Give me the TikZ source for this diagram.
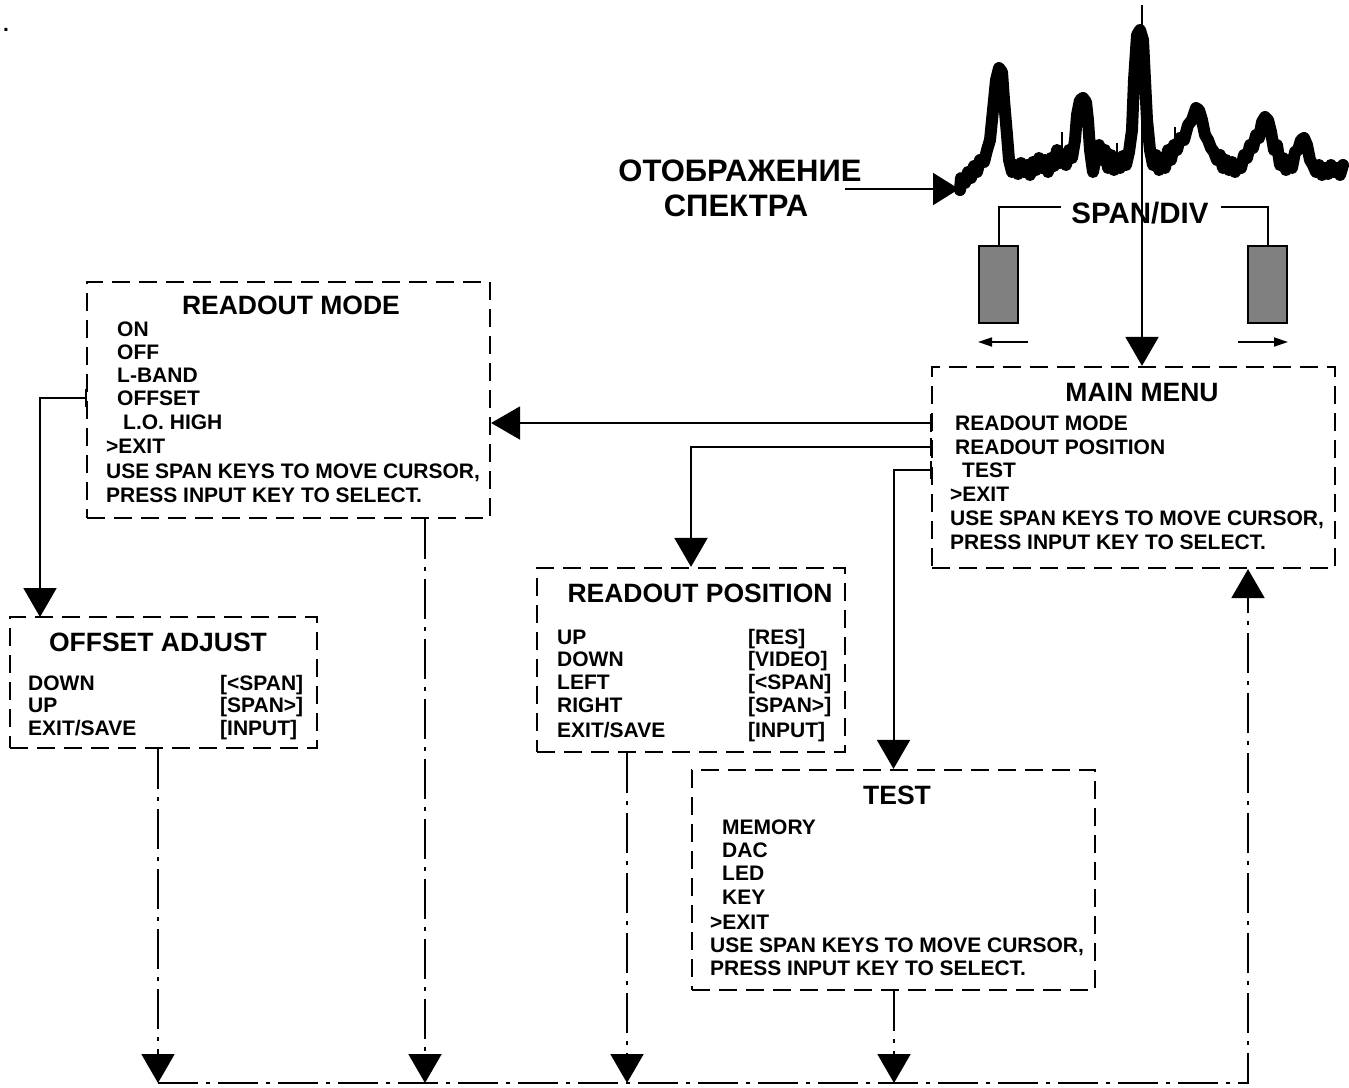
\documentclass[tikz,border=0pt]{standalone}
\usepackage{fontspec}
\setmainfont{Liberation Sans}
\usetikzlibrary{arrows.meta}
\begin{document}
\begin{tikzpicture}[x=1pt,y=-1pt,
  dbox/.style={draw, rectangle, dash pattern=on 18pt off 9pt, line width=2.2pt, inner sep=0pt},
  body/.style={font=\fontsize{21}{24}\selectfont\bfseries, inner sep=0pt, text height=15pt, text depth=0pt, anchor=west},
  ttl/.style={font=\fontsize{26.5}{30}\selectfont\bfseries, inner sep=0pt, text height=19pt, text depth=0pt},
  big/.style={font=\fontsize{31}{35}\selectfont\bfseries, inner sep=0pt, text height=22pt, text depth=0pt},
  conn/.style={line width=2pt},
  dd/.style={line width=2pt, dash pattern=on 40pt off 8pt on 4pt off 8pt},
  bigarrow/.style={-{Triangle[length=29pt,width=33pt]}},
  smallarrow/.style={-{Triangle[length=14pt,width=9pt]}},
  keyrect/.style={draw, line width=1.5pt, fill=black!50, minimum width=39pt, minimum height=77pt, inner sep=0pt},
  tick/.style={line width=2.2pt}
]
\useasboundingbox (0,0) rectangle (1349,1087);

% stray dot
\node[body] (dot) at (3,24) {.};

% ---------- spectrum ----------
\draw[line width=12pt, line join=round, line cap=round] plot coordinates {
(960,190) (961,178) (965,183) (968,172) (971,178) (974,166) (977,172) (980,160) (984,162) (987,150)
(990,140) (993,110) (996,80) (999,68) (1002,72) (1004,100) (1007,135) (1009,160) (1012,172) (1015,165)
(1018,174) (1021,163) (1024,172) (1027,165) (1030,175) (1033,162) (1036,170) (1039,158) (1042,168)
(1045,160) (1048,172) (1051,158) (1054,166) (1057,150) (1060,163) (1063,155) (1066,165) (1069,150)
(1072,158) (1075,140) (1077,115) (1080,100) (1083,98) (1086,102) (1088,120) (1090,150) (1093,172)
(1096,155) (1099,145) (1102,160) (1105,150) (1108,168) (1111,155) (1114,170) (1117,158) (1120,168)
(1123,156) (1126,165) (1129,152) (1132,130) (1134,80) (1137,35) (1140,30) (1143,40) (1145,80)
(1147,120) (1150,150) (1153,165) (1156,155) (1159,170) (1162,158) (1165,168) (1168,150) (1171,160)
(1174,145) (1177,150) (1180,138) (1184,140) (1188,125) (1192,120) (1196,108) (1199,110) (1202,120)
(1205,135) (1208,140) (1211,148) (1214,152) (1217,160) (1220,155) (1223,168) (1226,160) (1229,170)
(1232,162) (1235,172) (1238,165) (1241,168) (1244,155) (1247,158) (1250,145) (1253,148) (1256,135)
(1259,138) (1262,122) (1265,117) (1268,120) (1271,132) (1274,150) (1277,145) (1280,165) (1283,158)
(1286,170) (1289,160) (1292,168) (1295,152) (1298,150) (1301,140) (1304,138) (1307,145) (1310,160)
(1313,165) (1316,172) (1319,165) (1322,175) (1325,168) (1328,174) (1331,165) (1334,172) (1337,168)
(1340,175) (1343,165)};
\draw[line width=1.5pt] (1062,150) -- (1062,132);
\draw[line width=1.5pt] (1117,155) -- (1117,143);
\draw[line width=1.5pt] (1175,150) -- (1175,127);
\draw[line width=1.5pt] (1295,165) -- (1295,152);

% label and arrow into spectrum
\node[big] (l1) at (740,170) {ОТОБРАЖЕНИЕ};
\node[big] (l2) at (736,205) {СПЕКТРА};
\coordinate (ls) at (845,189);
\coordinate (sp) at (959,189);
\draw[conn, -{Triangle[length=26pt,width=32pt]}] (ls) -- (sp);

% main vertical line
\coordinate (top) at (1142,5);

% SPAN/DIV
\node[font=\fontsize{29.5}{32}\selectfont\bfseries, inner sep=0pt, text height=21pt, text depth=0pt] (sd) at (1140,213) {SPAN/DIV};
\node[keyrect] (kl) at (998.5,284.5) {};
\node[keyrect] (kr) at (1267.5,284.5) {};
\draw[conn] ([xshift=-10pt,yshift=6pt]sd.west) -| (kl.north);
\draw[conn] ([xshift=12pt,yshift=6pt]sd.east) -| (kr.north);
\coordinate (al1) at (1028,342);
\coordinate (al2) at (978,342);
\coordinate (ar1) at (1238,342);
\coordinate (ar2) at (1288,342);
\draw[line width=1.8pt, smallarrow] (al1) -- (al2);
\draw[line width=1.8pt, smallarrow] (ar1) -- (ar2);

% ---------- boxes ----------
\node[dbox, minimum width=403pt, minimum height=201pt] (mm) at (1133.5,467.5) {};
\node[dbox, minimum width=403pt, minimum height=236pt] (rm) at (288.5,400) {};
\node[dbox, minimum width=307pt, minimum height=131pt] (oa) at (163.5,682.5) {};
\node[dbox, minimum width=308pt, minimum height=184pt] (rp) at (691,660) {};
\node[dbox, minimum width=403pt, minimum height=220pt] (ts) at (893.5,880) {};

\draw[conn, bigarrow] (top) -- (mm.north -| top);

% main menu text
\node[ttl] (mmT) at (1142,392) {MAIN MENU};
\node[body] (mm1) at (955,423) {READOUT MODE};
\node[body] (mm2) at (955,447) {READOUT POSITION};
\node[body] (mm3) at (962,470) {TEST};
\node[body] (mm4) at (950,494) {>EXIT};
\node[body] (mm5) at (950,518) {USE SPAN KEYS TO MOVE CURSOR,};
\node[body] (mm6) at (950,542) {PRESS INPUT KEY TO SELECT.};

% readout mode text
\node[ttl] (rmT) at (291,305) {READOUT MODE};
\node[body] (rm1) at (117,329) {ON};
\node[body] (rm2) at (117,352) {OFF};
\node[body] (rm3) at (117,375) {L-BAND};
\node[body] (rm4) at (117,398) {OFFSET};
\node[body] (rm5) at (123,422) {L.O. HIGH};
\node[body] (rm6) at (106,446) {>EXIT};
\node[body] (rm7) at (106,471) {USE SPAN KEYS TO MOVE CURSOR,};
\node[body] (rm8) at (106,495) {PRESS INPUT KEY TO SELECT.};

% offset adjust text
\node[ttl] (oaT) at (158,642) {OFFSET ADJUST};
\node[body] (oa1) at (28,683) {DOWN};
\node[body] (oa2) at (28,705) {UP};
\node[body] (oa3) at (28,728) {EXIT/SAVE};
\node[body] (oa4) at (220,683) {[<SPAN]};
\node[body] (oa5) at (220,705) {[SPAN>]};
\node[body] (oa6) at (220,728) {[INPUT]};

% readout position text
\node[ttl] (rpT) at (700,593) {READOUT POSITION};
\node[body] (rp1) at (557,637) {UP};
\node[body] (rp2) at (557,659) {DOWN};
\node[body] (rp3) at (557,682) {LEFT};
\node[body] (rp4) at (557,705) {RIGHT};
\node[body] (rp5) at (557,730) {EXIT/SAVE};
\node[body] (rp6) at (748,637) {[RES]};
\node[body] (rp7) at (748,659) {[VIDEO]};
\node[body] (rp8) at (748,682) {[<SPAN]};
\node[body] (rp9) at (748,705) {[SPAN>]};
\node[body] (rp10) at (748,730) {[INPUT]};

% test text
\node[ttl] (tsT) at (897,795) {TEST};
\node[body] (ts1) at (722,827) {MEMORY};
\node[body] (ts2) at (722,850) {DAC};
\node[body] (ts3) at (722,873) {LED};
\node[body] (ts4) at (722,897) {KEY};
\node[body] (ts5) at (710,922) {>EXIT};
\node[body] (ts6) at (710,945) {USE SPAN KEYS TO MOVE CURSOR,};
\node[body] (ts7) at (710,968) {PRESS INPUT KEY TO SELECT.};

% ---------- connectors ----------
\draw[conn, bigarrow] (mm.west |- mm1) -- (rm.east |- mm1);
\draw[conn, bigarrow] (mm.west |- mm2) -| (rp.north);
\draw[conn, bigarrow] (mm.west |- mm3) -| (ts.north);
\coordinate (oaIn) at (40,617);
\draw[conn, bigarrow] (rm.west |- rm4) -| (oaIn);

\draw[tick] ([yshift=-9pt]mm.west |- mm1) -- ([yshift=9pt]mm.west |- mm1);
\draw[tick] ([yshift=-9pt]mm.west |- mm2) -- ([yshift=9pt]mm.west |- mm2);
\draw[tick] ([yshift=-9pt]mm.west |- mm3) -- ([yshift=9pt]mm.west |- mm3);
\draw[tick] ([yshift=-9pt]rm.west |- rm4) -- ([yshift=9pt]rm.west |- rm4);

% returns
\coordinate (b1) at (158,1083);
\coordinate (b2) at (425,1083);
\coordinate (b3) at (627,1083);
\coordinate (b4) at (894,1083);
\coordinate (b5) at (1248,1083);
\draw[dd, bigarrow] (oa.south -| b1) -- (b1);
\draw[dd, bigarrow] (rm.south -| b2) -- (b2);
\draw[dd, bigarrow] (rp.south -| b3) -- (b3);
\draw[dd, bigarrow] (ts.south -| b4) -- (b4);
\draw[dd, bigarrow] (b1) -- (b5) -- (mm.south -| b5);
\end{tikzpicture}
\end{document}
